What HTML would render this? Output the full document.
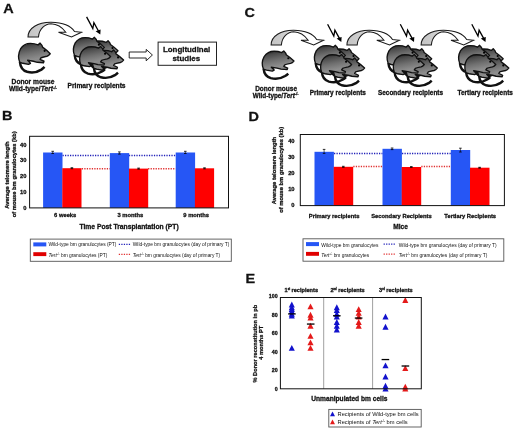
<!DOCTYPE html>
<html><head><meta charset="utf-8"><title>Figure</title>
<style>
html,body{margin:0;padding:0;background:#fff;}
svg{display:block;will-change:transform;filter:blur(0.35px);}
text{font-family:"Liberation Sans", sans-serif;fill:#111;}
text[font-weight=bold]{stroke:#111;stroke-width:0.28;}
</style></head>
<body>
<svg width="520" height="433" viewBox="0 0 520 433">
<rect width="520" height="433" fill="#fff"/>

<defs>
 <linearGradient id="mg" x1="0.3" y1="0" x2="0.6" y2="1">
  <stop offset="0" stop-color="#2a2a2a"/>
  <stop offset="0.15" stop-color="#4a4a4a"/>
  <stop offset="0.45" stop-color="#707070"/>
  <stop offset="0.75" stop-color="#8e8e8e"/>
  <stop offset="1" stop-color="#7e7e7e"/>
 </linearGradient>
 <linearGradient id="ag" x1="0" y1="0" x2="1" y2="0">
  <stop offset="0" stop-color="#c4c4c4"/>
  <stop offset="0.3" stop-color="#d0d0d0"/>
  <stop offset="0.42" stop-color="#fff"/>
  <stop offset="1" stop-color="#fff"/>
 </linearGradient>
 <g id="mouse">
  <path d="M1.4,18.6 C1.8,24 5,27.6 9,28.8 C14,30.1 20,29 24,26.5 C25.5,25.5 26.5,24.6 27.3,23.8" fill="none" stroke="#111" stroke-width="2.6"/>
  <path d="M1.2,19 C-0.3,15.5 -0.4,10 2,5.5 C4.2,2 8,-0.2 12.5,-0.2 C15.5,-0.2 18,0.3 20.5,1.3 L22.6,-0.5 L24.6,1.8 L25.2,3.6 C27.8,5.4 30.5,7.6 33.3,10.3 C32.2,11.6 31,12.5 29.8,12.9 C27.5,13.4 25.3,13.8 23.7,14.4 L22.6,16 L26.7,18 L26.2,19.6 L19.7,19.1 L15.6,18 L9.5,17 L12.5,20.1 L10.5,21.2 L4.4,20.1 Z" fill="url(#mg)" stroke="#111" stroke-width="1.45" stroke-linejoin="round"/>
  <circle cx="27.4" cy="7.4" r="1.15" fill="#000"/>
 </g>
 <g id="mice">
  <use href="#mouse" transform="translate(87,41.2) scale(0.93)"/>
  <use href="#mouse" transform="translate(73.4,37.8) scale(0.93)"/>
  <use href="#mouse" transform="translate(92.6,50.5) scale(0.93)"/>
  <use href="#mouse" transform="translate(79.6,46.9) scale(0.93)"/>
 </g>
 <g id="bolt">
  <path d="M86.6,16.9 L92.8,28.6 L93.9,22.7 L99,32" fill="none" stroke="#000" stroke-width="1.3"/>
  <path d="M100.3,34.6 L95.6,31.2 L100.6,29.6 Z" fill="#000"/>
 </g>
 <path id="carrow" d="M28,37 C28,28 38,22.2 51,22.3 C62,22.5 71,26 74.5,31.5 L81.5,32.3 L71.5,37 L58.5,32.3 L65.8,32.3 C62,27 57,24 51,23.8 C45,24 39,29 38.5,37 Z" fill="url(#ag)" stroke="#1a1a1a" stroke-width="1.05"/>
</defs>

<text transform="translate(3.2,13.2) scale(1.07,1)" font-size="13.5" font-weight="bold">A</text>
<use href="#carrow"/>
<use href="#mouse" transform="translate(18.6,43.6) scale(0.95,0.98)"/>
<use href="#mice"/><use href="#bolt"/>
<text x="33" y="83.8" font-size="6.65" font-weight="bold" text-anchor="middle" >Donor mouse</text>
<text x="33" y="91.3" font-size="6.65" font-weight="bold" text-anchor="middle" >Wild-type/<tspan font-style="italic">Tert</tspan><tspan font-size="4.3" dy="-2.4">-/-</tspan></text>
<text x="96.6" y="87.8" font-size="6.65" font-weight="bold" text-anchor="middle" >Primary recipients</text>
<path d="M129.2,52 L146.2,52 L146.2,49.4 L152.4,55 L146.2,60.8 L146.2,58 L129.2,58 Z" fill="#fff" stroke="#111" stroke-width="0.9"/>
<rect x="158.1" y="42.1" width="58.4" height="23.2" fill="#fff" stroke="#222" stroke-width="1"/>
<text x="186.6" y="52.0" font-size="7.9" font-weight="bold" text-anchor="middle" >Longitudinal</text>
<text x="186.3" y="61.4" font-size="7.9" font-weight="bold" text-anchor="middle" >studies</text>
<text transform="translate(244.6,16.8) scale(1.07,1)" font-size="13.5" font-weight="bold">C</text>
<use href="#carrow" transform="translate(243.66,8) scale(0.98,1)"/>
<use href="#carrow" transform="translate(319.46,8) scale(0.98,1)"/>
<use href="#carrow" transform="translate(393.66,8) scale(0.98,1)"/>
<use href="#mouse" transform="translate(262.3,51.4) scale(0.95,0.93)"/>
<use href="#mice" transform="translate(241,8)"/><use href="#bolt" transform="translate(241,7.4)"/>
<use href="#mice" transform="translate(313.7,8)"/><use href="#bolt" transform="translate(313.7,7.4)"/>
<use href="#mice" transform="translate(385.2,8)"/><use href="#bolt" transform="translate(385.2,7.4)"/>
<text x="276.1" y="90.7" font-size="6.5" font-weight="bold" text-anchor="middle" >Donor mouse</text>
<text x="275.8" y="97.6" font-size="6.35" font-weight="bold" text-anchor="middle" >Wild-type/<tspan font-style="italic">Tert</tspan><tspan font-size="4.1" dy="-2.3">-/-</tspan></text>
<text x="337.8" y="94.6" font-size="6.45" font-weight="bold" text-anchor="middle" >Primary recipients</text>
<text x="410.5" y="94.6" font-size="6.45" font-weight="bold" text-anchor="middle" >Secondary recipients</text>
<text x="485.2" y="94.6" font-size="6.45" font-weight="bold" text-anchor="middle" >Tertiary recipients</text>
<text transform="translate(2.0,119.6) scale(1.07,1)" font-size="13.5" font-weight="bold">B</text>
<line x1="62.5" y1="155.5" x2="109.8" y2="155.5" stroke="#2020b8" stroke-width="1.35" stroke-dasharray="1.25 1.25"/>
<line x1="128.9" y1="155.5" x2="175.7" y2="155.5" stroke="#2020b8" stroke-width="1.35" stroke-dasharray="1.25 1.25"/>
<line x1="81.8" y1="168.7" x2="109.8" y2="168.7" stroke="#e03030" stroke-width="1.35" stroke-dasharray="1.25 1.25"/>
<line x1="148.1" y1="168.7" x2="175.7" y2="168.7" stroke="#e03030" stroke-width="1.35" stroke-dasharray="1.25 1.25"/>
<rect x="43.1" y="152.5" width="19.4" height="55.400000000000006" fill="#2656f5"/>
<rect x="62.3" y="168.2" width="19.2" height="39.70000000000002" fill="#ff0000"/>
<line x1="52.7" y1="151.3" x2="52.7" y2="153.5" stroke="#000" stroke-width="0.6"/><line x1="51.400000000000006" y1="151.3" x2="54.0" y2="151.3" stroke="#000" stroke-width="0.8"/><line x1="51.400000000000006" y1="153.5" x2="54.0" y2="153.5" stroke="#000" stroke-width="0.8"/>
<line x1="71.9" y1="167.7" x2="71.9" y2="168.7" stroke="#000" stroke-width="0.6"/><line x1="70.60000000000001" y1="167.7" x2="73.2" y2="167.7" stroke="#000" stroke-width="0.8"/><line x1="70.60000000000001" y1="168.7" x2="73.2" y2="168.7" stroke="#000" stroke-width="0.8"/>
<rect x="109.8" y="153.1" width="19.4" height="54.80000000000001" fill="#2656f5"/>
<rect x="129.0" y="168.6" width="19.2" height="39.30000000000001" fill="#ff0000"/>
<line x1="119.39999999999999" y1="151.9" x2="119.39999999999999" y2="154.1" stroke="#000" stroke-width="0.6"/><line x1="118.1" y1="151.9" x2="120.69999999999999" y2="151.9" stroke="#000" stroke-width="0.8"/><line x1="118.1" y1="154.1" x2="120.69999999999999" y2="154.1" stroke="#000" stroke-width="0.8"/>
<line x1="138.6" y1="168.1" x2="138.6" y2="169.1" stroke="#000" stroke-width="0.6"/><line x1="137.29999999999998" y1="168.1" x2="139.9" y2="168.1" stroke="#000" stroke-width="0.8"/><line x1="137.29999999999998" y1="169.1" x2="139.9" y2="169.1" stroke="#000" stroke-width="0.8"/>
<rect x="175.7" y="152.5" width="19.4" height="55.400000000000006" fill="#2656f5"/>
<rect x="194.89999999999998" y="168.3" width="19.2" height="39.599999999999994" fill="#ff0000"/>
<line x1="185.29999999999998" y1="151.3" x2="185.29999999999998" y2="153.5" stroke="#000" stroke-width="0.6"/><line x1="183.99999999999997" y1="151.3" x2="186.6" y2="151.3" stroke="#000" stroke-width="0.8"/><line x1="183.99999999999997" y1="153.5" x2="186.6" y2="153.5" stroke="#000" stroke-width="0.8"/>
<line x1="204.5" y1="167.8" x2="204.5" y2="168.8" stroke="#000" stroke-width="0.6"/><line x1="203.2" y1="167.8" x2="205.8" y2="167.8" stroke="#000" stroke-width="0.8"/><line x1="203.2" y1="168.8" x2="205.8" y2="168.8" stroke="#000" stroke-width="0.8"/>
<rect x="29.6" y="136.3" width="198.9" height="71.6" fill="none" stroke="#111" stroke-width="1"/>
<text x="26.4" y="209.5" font-size="5.8" font-weight="bold" text-anchor="end" >0</text>
<text x="26.4" y="193.75" font-size="5.8" font-weight="bold" text-anchor="end" >10</text>
<text x="26.4" y="178.0" font-size="5.8" font-weight="bold" text-anchor="end" >20</text>
<text x="26.4" y="162.25" font-size="5.8" font-weight="bold" text-anchor="end" >30</text>
<text x="26.4" y="146.5" font-size="5.8" font-weight="bold" text-anchor="end" >40</text>
<text x="65.2" y="217" font-size="5.8" font-weight="bold" text-anchor="middle" >6 weeks</text>
<text x="130.3" y="217" font-size="5.8" font-weight="bold" text-anchor="middle" >3 months</text>
<text x="196.2" y="217" font-size="5.8" font-weight="bold" text-anchor="middle" >9 months</text>
<text x="129.1" y="229.3" font-size="6.75" font-weight="bold" text-anchor="middle" >Time Post Transplantation (PT)</text>
<g transform="translate(9.0,175.1) rotate(-90)"><text x="0" y="0" font-size="5.8" font-weight="bold" text-anchor="middle" >Average telomere length</text></g>
<g transform="translate(15.6,174.3) rotate(-90)"><text x="0" y="0" font-size="5.8" font-weight="bold" text-anchor="middle" >of mouse bm granulocytes (kb)</text></g>
<rect x="30.3" y="239.1" width="201" height="22.2" fill="#fff" stroke="#555" stroke-width="0.9"/>
<rect x="33.3" y="242.4" width="13" height="4" fill="#2656f5"/>
<rect x="33.3" y="252.2" width="13" height="3.9" fill="#e00000"/>
<text x="48.6" y="246.4" font-size="4.85" font-weight="normal" text-anchor="start" >Wild-type bm granulocytes (PT)</text>
<text x="48.6" y="256.5" font-size="4.85" font-weight="normal" text-anchor="start" ><tspan font-style="italic">Tert</tspan><tspan font-size="3" dy="-1.8">-/-</tspan><tspan dy="1.8"> </tspan>bm granulocytes (PT)</text>
<line x1="118.8" y1="244.4" x2="130.3" y2="244.4" stroke="#2020b8" stroke-width="1.35" stroke-dasharray="1.25 1.25"/>
<line x1="118.8" y1="254.4" x2="130.3" y2="254.4" stroke="#e03030" stroke-width="1.35" stroke-dasharray="1.25 1.25"/>
<text x="132.8" y="246.4" font-size="4.85" font-weight="normal" text-anchor="start" >Wild-type bm granulocytes (day of primary T)</text>
<text x="132.8" y="256.5" font-size="4.85" font-weight="normal" text-anchor="start" ><tspan font-style="italic">Tert</tspan><tspan font-size="3" dy="-1.8">-/-</tspan><tspan dy="1.8"> </tspan>bm granulocytes (day of primary T)</text>
<text transform="translate(248.6,120.5) scale(1.07,1)" font-size="13.5" font-weight="bold">D</text>
<line x1="334" y1="153.5" x2="382.5" y2="153.5" stroke="#2020b8" stroke-width="1.35" stroke-dasharray="1.25 1.25"/>
<line x1="402" y1="153.5" x2="451.2" y2="153.5" stroke="#2020b8" stroke-width="1.35" stroke-dasharray="1.25 1.25"/>
<line x1="353.3" y1="166.5" x2="382.5" y2="166.5" stroke="#e03030" stroke-width="1.35" stroke-dasharray="1.25 1.25"/>
<line x1="421.3" y1="166.5" x2="451.2" y2="166.5" stroke="#e03030" stroke-width="1.35" stroke-dasharray="1.25 1.25"/>
<rect x="314.5" y="151.8" width="19.4" height="53.79999999999998" fill="#2656f5"/>
<rect x="333.7" y="166.8" width="19.5" height="38.79999999999998" fill="#ff0000"/>
<rect x="382.5" y="148.8" width="19.4" height="56.79999999999998" fill="#2656f5"/>
<rect x="401.7" y="167.0" width="19.5" height="38.599999999999994" fill="#ff0000"/>
<rect x="450.8" y="150.0" width="19.4" height="55.599999999999994" fill="#2656f5"/>
<rect x="470.0" y="167.7" width="19.5" height="37.900000000000006" fill="#ff0000"/>
<line x1="324.1" y1="149.4" x2="324.1" y2="153.4" stroke="#000" stroke-width="0.6"/><line x1="322.8" y1="149.4" x2="325.40000000000003" y2="149.4" stroke="#000" stroke-width="0.8"/><line x1="322.8" y1="153.4" x2="325.40000000000003" y2="153.4" stroke="#000" stroke-width="0.8"/>
<line x1="392.1" y1="148.0" x2="392.1" y2="149.6" stroke="#000" stroke-width="0.6"/><line x1="390.8" y1="148.0" x2="393.40000000000003" y2="148.0" stroke="#000" stroke-width="0.8"/><line x1="390.8" y1="149.6" x2="393.40000000000003" y2="149.6" stroke="#000" stroke-width="0.8"/>
<line x1="460.40000000000003" y1="148.2" x2="460.40000000000003" y2="152.0" stroke="#000" stroke-width="0.6"/><line x1="459.1" y1="148.2" x2="461.70000000000005" y2="148.2" stroke="#000" stroke-width="0.8"/><line x1="459.1" y1="152.0" x2="461.70000000000005" y2="152.0" stroke="#000" stroke-width="0.8"/>
<line x1="343.3" y1="166.3" x2="343.3" y2="167.3" stroke="#000" stroke-width="0.6"/><line x1="342.0" y1="166.3" x2="344.6" y2="166.3" stroke="#000" stroke-width="0.8"/><line x1="342.0" y1="167.3" x2="344.6" y2="167.3" stroke="#000" stroke-width="0.8"/>
<line x1="411.3" y1="166.6" x2="411.3" y2="167.4" stroke="#000" stroke-width="0.6"/><line x1="410.0" y1="166.6" x2="412.6" y2="166.6" stroke="#000" stroke-width="0.8"/><line x1="410.0" y1="167.4" x2="412.6" y2="167.4" stroke="#000" stroke-width="0.8"/>
<line x1="479.6" y1="167.3" x2="479.6" y2="168.1" stroke="#000" stroke-width="0.6"/><line x1="478.3" y1="167.3" x2="480.90000000000003" y2="167.3" stroke="#000" stroke-width="0.8"/><line x1="478.3" y1="168.1" x2="480.90000000000003" y2="168.1" stroke="#000" stroke-width="0.8"/>
<rect x="300.3" y="134.5" width="204.09999999999997" height="71.1" fill="none" stroke="#111" stroke-width="1"/>
<text x="294.6" y="207.1" font-size="5.8" font-weight="bold" text-anchor="end" >0</text>
<text x="294.6" y="191.15" font-size="5.8" font-weight="bold" text-anchor="end" >10</text>
<text x="294.6" y="175.2" font-size="5.8" font-weight="bold" text-anchor="end" >20</text>
<text x="294.6" y="159.25" font-size="5.8" font-weight="bold" text-anchor="end" >30</text>
<text x="294.6" y="143.29999999999998" font-size="5.8" font-weight="bold" text-anchor="end" >40</text>
<text x="334.1" y="217.5" font-size="5.8" font-weight="bold" text-anchor="middle" >Primary recipients</text>
<text x="401.5" y="217.5" font-size="5.8" font-weight="bold" text-anchor="middle" >Secondary Recipients</text>
<text x="470.2" y="217.5" font-size="5.8" font-weight="bold" text-anchor="middle" >Tertiary Recipients</text>
<text x="400.6" y="228.7" font-size="6.65" font-weight="bold" text-anchor="middle" >Mice</text>
<g transform="translate(276.2,170.6) rotate(-90)"><text x="0" y="0" font-size="5.8" font-weight="bold" text-anchor="middle" >Average telomere length</text></g>
<g transform="translate(283.2,169.8) rotate(-90)"><text x="0" y="0" font-size="5.8" font-weight="bold" text-anchor="middle" >of mouse bm granulocytes (kb)</text></g>
<rect x="303" y="238.8" width="200.8" height="22.4" fill="#fff" stroke="#555" stroke-width="0.9"/>
<rect x="306" y="242.10000000000002" width="13" height="4" fill="#2656f5"/>
<rect x="306" y="251.9" width="13" height="3.9" fill="#e00000"/>
<text x="321.3" y="246.70000000000002" font-size="4.85" font-weight="normal" text-anchor="start" >Wild-type bm granulocytes</text>
<text x="321.3" y="256.8" font-size="4.85" font-weight="normal" text-anchor="start" ><tspan font-style="italic">Tert</tspan><tspan font-size="3" dy="-1.8">-/-</tspan><tspan dy="1.8"> </tspan>bm granulocytes</text>
<line x1="383.6" y1="244.10000000000002" x2="395.1" y2="244.10000000000002" stroke="#2020b8" stroke-width="1.35" stroke-dasharray="1.25 1.25"/>
<line x1="383.6" y1="254.10000000000002" x2="395.1" y2="254.10000000000002" stroke="#e03030" stroke-width="1.35" stroke-dasharray="1.25 1.25"/>
<text x="398.8" y="246.70000000000002" font-size="4.92" font-weight="normal" text-anchor="start" >Wild-type bm granulocytes (day of primary T)</text>
<text x="398.8" y="256.8" font-size="4.92" font-weight="normal" text-anchor="start" ><tspan font-style="italic">Tert</tspan><tspan font-size="3" dy="-1.8">-/-</tspan><tspan dy="1.8"> </tspan>bm granulocytes (day of primary T)</text>
<text transform="translate(245.6,283.1) scale(1.07,1)" font-size="13.5" font-weight="bold">E</text>
<line x1="323.7" y1="297.5" x2="323.7" y2="388.8" stroke="#888" stroke-width="0.8"/>
<line x1="372.6" y1="297.5" x2="372.6" y2="388.8" stroke="#888" stroke-width="0.8"/>
<path d="M291.8,301.60 L294.85,307.50 L288.75,307.50 Z" fill="#1212cc"/>
<path d="M291.8,304.36 L294.85,310.26 L288.75,310.26 Z" fill="#1212cc"/>
<path d="M291.8,306.21 L294.85,312.11 L288.75,312.11 Z" fill="#1212cc"/>
<path d="M291.8,308.05 L294.85,313.95 L288.75,313.95 Z" fill="#1212cc"/>
<path d="M291.8,310.82 L294.85,316.72 L288.75,316.72 Z" fill="#1212cc"/>
<path d="M291.8,312.66 L294.85,318.56 L288.75,318.56 Z" fill="#1212cc"/>
<path d="M291.8,344.93 L294.85,350.83 L288.75,350.83 Z" fill="#1212cc"/>
<path d="M310.5,303.44 L313.55,309.34 L307.45,309.34 Z" fill="#e41a1a"/>
<path d="M310.5,311.74 L313.55,317.64 L307.45,317.64 Z" fill="#e41a1a"/>
<path d="M310.5,314.51 L313.55,320.41 L307.45,320.41 Z" fill="#e41a1a"/>
<path d="M310.5,322.80 L313.55,328.70 L307.45,328.70 Z" fill="#e41a1a"/>
<path d="M310.5,332.95 L313.55,338.85 L307.45,338.85 Z" fill="#e41a1a"/>
<path d="M310.5,339.40 L313.55,345.30 L307.45,345.30 Z" fill="#e41a1a"/>
<path d="M310.5,344.93 L313.55,350.83 L307.45,350.83 Z" fill="#e41a1a"/>
<path d="M336.8,304.36 L339.85,310.26 L333.75,310.26 Z" fill="#1212cc"/>
<path d="M336.8,307.13 L339.85,313.03 L333.75,313.03 Z" fill="#1212cc"/>
<path d="M336.8,310.82 L339.85,316.72 L333.75,316.72 Z" fill="#1212cc"/>
<path d="M336.8,313.58 L339.85,319.48 L333.75,319.48 Z" fill="#1212cc"/>
<path d="M336.8,319.12 L339.85,325.02 L333.75,325.02 Z" fill="#1212cc"/>
<path d="M336.8,322.80 L339.85,328.70 L333.75,328.70 Z" fill="#1212cc"/>
<path d="M336.8,326.49 L339.85,332.39 L333.75,332.39 Z" fill="#1212cc"/>
<path d="M358.7,306.21 L361.75,312.11 L355.65,312.11 Z" fill="#e41a1a"/>
<path d="M358.7,309.90 L361.75,315.80 L355.65,315.80 Z" fill="#e41a1a"/>
<path d="M358.7,313.58 L361.75,319.48 L355.65,319.48 Z" fill="#e41a1a"/>
<path d="M358.7,319.12 L361.75,325.02 L355.65,325.02 Z" fill="#e41a1a"/>
<path d="M358.7,322.80 L361.75,328.70 L355.65,328.70 Z" fill="#e41a1a"/>
<path d="M385.5,313.58 L388.55,319.48 L382.45,319.48 Z" fill="#1212cc"/>
<path d="M385.5,323.73 L388.55,329.63 L382.45,329.63 Z" fill="#1212cc"/>
<path d="M385.5,362.45 L388.55,368.35 L382.45,368.35 Z" fill="#1212cc"/>
<path d="M385.5,373.51 L388.55,379.41 L382.45,379.41 Z" fill="#1212cc"/>
<path d="M385.5,382.73 L388.55,388.63 L382.45,388.63 Z" fill="#1212cc"/>
<path d="M385.5,385.50 L388.55,391.40 L382.45,391.40 Z" fill="#1212cc"/>
<path d="M405.3,296.99 L408.35,302.89 L402.25,302.89 Z" fill="#e41a1a"/>
<path d="M405.3,365.22 L408.35,371.12 L402.25,371.12 Z" fill="#e41a1a"/>
<path d="M405.3,383.66 L408.35,389.56 L402.25,389.56 Z" fill="#e41a1a"/>
<path d="M405.3,385.50 L408.35,391.40 L402.25,391.40 Z" fill="#e41a1a"/>
<line x1="288.09999999999997" y1="313.918" x2="295.7" y2="313.918" stroke="#000" stroke-width="1.3"/>
<line x1="306.9" y1="324.06" x2="314.5" y2="324.06" stroke="#000" stroke-width="1.3"/>
<line x1="333.0" y1="315.762" x2="340.6" y2="315.762" stroke="#000" stroke-width="1.3"/>
<line x1="354.8" y1="318.067" x2="362.40000000000003" y2="318.067" stroke="#000" stroke-width="1.3"/>
<line x1="381.59999999999997" y1="359.557" x2="389.2" y2="359.557" stroke="#000" stroke-width="1.3"/>
<line x1="401.59999999999997" y1="366.011" x2="409.2" y2="366.011" stroke="#000" stroke-width="1.3"/>
<rect x="280.4" y="297.5" width="140.90000000000003" height="91.30000000000001" fill="none" stroke="#111" stroke-width="1"/>
<text x="277.6" y="390.5" font-size="5.3" font-weight="bold" text-anchor="end" >0</text>
<text x="277.6" y="372.06" font-size="5.3" font-weight="bold" text-anchor="end" >20</text>
<text x="277.6" y="353.62" font-size="5.3" font-weight="bold" text-anchor="end" >40</text>
<text x="277.6" y="335.18" font-size="5.3" font-weight="bold" text-anchor="end" >60</text>
<text x="277.6" y="316.74" font-size="5.3" font-weight="bold" text-anchor="end" >80</text>
<text x="277.6" y="298.3" font-size="5.3" font-weight="bold" text-anchor="end" >100</text>
<text x="284.6" y="291.9" font-size="5.6" font-weight="bold" text-anchor="start" >1<tspan font-size="2.6" dy="-2.2">st</tspan><tspan dy="2.2"> recipients</tspan></text>
<text x="330.4" y="291.9" font-size="5.6" font-weight="bold" text-anchor="start" >2<tspan font-size="2.6" dy="-2.2">nd</tspan><tspan dy="2.2"> recipients</tspan></text>
<text x="379" y="291.9" font-size="5.6" font-weight="bold" text-anchor="start" >3<tspan font-size="2.6" dy="-2.2">rd</tspan><tspan dy="2.2"> recipients</tspan></text>
<text x="349.4" y="400.8" font-size="6.63" font-weight="bold" text-anchor="middle" >Unmanipulated bm cells</text>
<g transform="translate(257.3,343.7) rotate(-90)"><text x="0" y="0" font-size="5.66" font-weight="bold" text-anchor="middle" >% Donor reconstitution in pb</text></g>
<g transform="translate(263.3,342.8) rotate(-90)"><text x="0" y="0" font-size="5.66" font-weight="bold" text-anchor="middle" >4 months PT</text></g>
<rect x="328.8" y="409.4" width="92.4" height="17.6" fill="#fff" stroke="#555" stroke-width="0.9"/>
<path d="M332.5,411.6 L335,416.3 L330,416.3 Z" fill="#1212cc"/>
<path d="M332.5,419.6 L335,424.3 L330,424.3 Z" fill="#e41a1a"/>
<text x="337.5" y="416.3" font-size="5.73" font-weight="normal" text-anchor="start" >Recipients of Wild-type bm cells</text>
<text x="337.5" y="424.4" font-size="5.73" font-weight="normal" text-anchor="start" >Recipients of <tspan font-style="italic">Tert</tspan><tspan font-size="3.4" dy="-2">-/-</tspan><tspan dy="2"> bm cells</tspan></text>
</svg>
</body></html>
